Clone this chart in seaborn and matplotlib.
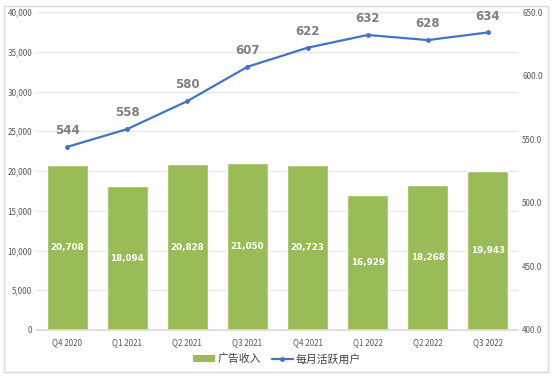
import matplotlib
matplotlib.use("Agg")
import matplotlib.pyplot as plt
import matplotlib.ticker as mticker
from matplotlib.patches import Rectangle, Patch
from matplotlib.lines import Line2D
import seaborn as sns
import pandas as pd

quarters = ["Q4 2020", "Q1 2021", "Q2 2021", "Q3 2021", "Q4 2021", "Q1 2022", "Q2 2022", "Q3 2022"]
ad_revenue = [20708, 18094, 20828, 21050, 20723, 16929, 18268, 19943]
mau = [544, 558, 580, 607, 622, 632, 628, 634]

bar_name = "广告收入"
line_name = "每月活跃用户"
green = "#9BBB59"
blue = "#4472C4"
tick_grey = "#595959"

sns.set_theme(style="white")
plt.rcParams["font.family"] = ["Noto Sans CJK SC", "DejaVu Sans"]

df = pd.DataFrame({"quarter": quarters, "revenue": ad_revenue, "mau": mau})

fig = plt.figure(figsize=(5.54, 3.78), dpi=100)
ax = fig.add_axes([0.067, 0.127, 0.868, 0.841])

sns.barplot(data=df, x="quarter", y="revenue", color=green, width=0.68,
            saturation=1, ax=ax)
ax.set_ylim(0, 40000)
ax.set_yticks(range(0, 40001, 5000))
ax.yaxis.set_major_formatter(mticker.FuncFormatter(lambda v, p: f"{int(v):,}"))
ax.grid(axis="y", color="#E6E6E6", linewidth=1)
ax.set_axisbelow(True)
for s in ["top", "right", "left"]:
    ax.spines[s].set_visible(False)
ax.spines["bottom"].set_color("#D9D9D9")
ax.set_xlabel("")
ax.set_ylabel("")
ax.tick_params(axis="y", labelsize=5.8, colors=tick_grey, length=0, pad=3.5)
ax.tick_params(axis="x", labelsize=5.8, colors=tick_grey, length=0, pad=6)
ax.set_xlim(-0.5, len(quarters) - 0.5)

for i, v in enumerate(ad_revenue):
    ax.text(i, v / 2, f"{v:,}", ha="center", va="center", color="white",
            fontsize=6.3, fontweight="bold", family="DejaVu Sans")

ax2 = ax.twinx()
sns.lineplot(data=df, x="quarter", y="mau", sort=False, color=blue, linewidth=1.6,
             marker="o", markersize=3.5, markeredgewidth=0, ax=ax2)
ax2.set_ylim(400, 650)
ax2.set_yticks(range(400, 651, 50))
ax2.yaxis.set_major_formatter(mticker.FuncFormatter(lambda v, p: f"{v:.1f}"))
for s in ["top", "right", "left", "bottom"]:
    ax2.spines[s].set_visible(False)
ax2.set_ylabel("")
ax2.tick_params(axis="y", labelsize=5.8, colors=tick_grey, length=0, pad=3)
ax2.set_xlim(-0.5, len(quarters) - 0.5)

for i, v in enumerate(mau):
    ax2.annotate(f"{v}", (i, v), xytext=(0, 7), textcoords="offset points",
                 ha="center", va="bottom", color="#7F7F7F", fontsize=8.5,
                 fontweight="bold", family="DejaVu Sans")

handles = [Patch(facecolor=green, edgecolor="none"),
           Line2D([0], [0], color=blue, linewidth=1.6, marker="o", markersize=3.5,
                  markeredgewidth=0)]
fig.legend(handles, [bar_name, line_name], loc="center", bbox_to_anchor=(0.5, 0.05),
           ncol=2, frameon=False, fontsize=7.8, handlelength=2.0, handleheight=0.55,
           columnspacing=1.0, handletextpad=0.2, labelcolor="#404040")

fig.patches.append(Rectangle((0.008, 0.015), 0.982, 0.97, transform=fig.transFigure,
                             fill=False, edgecolor="#D9D9D9", linewidth=1))

fig.savefig("out.png", dpi=100)
